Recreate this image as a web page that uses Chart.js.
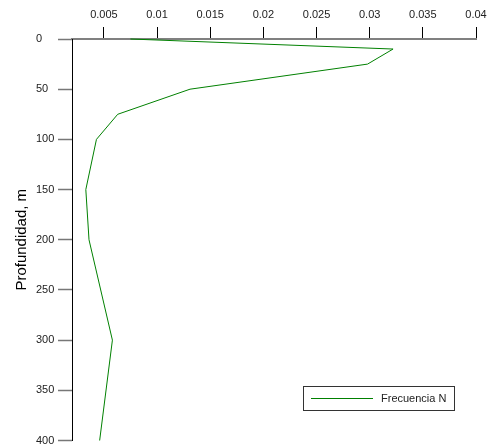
<!DOCTYPE html>
<html>
<head>
<meta charset="utf-8">
<script src="https://cdn.jsdelivr.net/npm/chart.js@4"></script>
<style>
  body { margin: 0; background: #fff; }
  canvas { display: block; }
</style>
</head>
<body>
<canvas id="chart" width="494" height="445"></canvas>
<script>
// Frecuencia N vs depth
const depths = [0, 10, 25, 50, 75, 100, 150, 200, 300, 400];
const frecuenciaN = [0.0075, 0.0322, 0.0298, 0.0131, 0.0063, 0.0043, 0.0033, 0.0036, 0.0058, 0.0046];
const xTicks = [0.005, 0.01, 0.015, 0.02, 0.025, 0.03, 0.035, 0.04];
const seriesLabel = 'Frecuencia N';
const FONT = 'Liberation Sans, Arial, sans-serif';

const legendBox = {
    id: 'legendBox',
    afterDraw(chart) {
        const ctx = chart.ctx;
        const ds = chart.data.datasets[0];
        ctx.save();
        ctx.strokeStyle = '#333';
        ctx.lineWidth = 1;
        ctx.strokeRect(303.5, 386.5, 151, 24);
        ctx.strokeStyle = ds.borderColor;
        ctx.beginPath();
        ctx.moveTo(311, 398.5);
        ctx.lineTo(373, 398.5);
        ctx.stroke();
        ctx.fillStyle = '#222';
        ctx.font = '11px ' + FONT;
        ctx.textBaseline = 'middle';
        ctx.fillText(ds.label, 381, 398.5);
        ctx.restore();
    }
};

new Chart(document.getElementById('chart'), {
    type: 'line',
    data: {
        datasets: [{
            label: seriesLabel,
            data: depths.map((d, i) => ({ x: frecuenciaN[i], y: d })),
            borderColor: '#008000',
            borderWidth: 1,
            pointRadius: 0,
            fill: false,
            tension: 0,
            clip: false
        }]
    },
    options: {
        responsive: false,
        animation: false,
        layout: { autoPadding: false, padding: { left: 36, top: 0, right: 18, bottom: 4.5 } },
        plugins: { legend: { display: false }, tooltip: { enabled: false } },
        scales: {
            x: {
                type: 'linear',
                position: 'top',
                min: 0.002,
                max: 0.04,
                afterBuildTicks: s => { s.ticks = xTicks.map(v => ({ value: v })); },
                afterFit: s => { s.height = 39; s.paddingLeft = 0; s.paddingRight = 0; },
                grid: { drawOnChartArea: false, tickLength: 12, color: '#000', tickWidth: 1 },
                border: { color: '#808080', width: 2 },
                ticks: {
                    padding: 5, color: '#222', maxRotation: 0,
                    font: { family: FONT, size: 11 },
                    callback: v => String(v)
                }
            },
            y: {
                type: 'linear',
                reverse: true,
                min: 0,
                max: 400,
                // labels are left aligned in the original
                afterFit: s => { s.width = 36; s.paddingTop = 0; s.paddingBottom = 0; },
                grid: { drawOnChartArea: false, tickLength: 14, color: '#777', tickWidth: 1.5 },
                border: { color: '#000', width: 1 },
                ticks: {
                    stepSize: 50, padding: 5, color: '#222', crossAlign: 'far',
                    font: { family: FONT, size: 11 }
                },
                title: {
                    display: true,
                    text: 'Profundidad, m',
                    color: '#000',
                    font: { family: FONT, size: 15 },
                    padding: { top: -23.5, bottom: 0 }
                }
            }
        }
    },
    plugins: [legendBox]
});
</script>
</body>
</html>
